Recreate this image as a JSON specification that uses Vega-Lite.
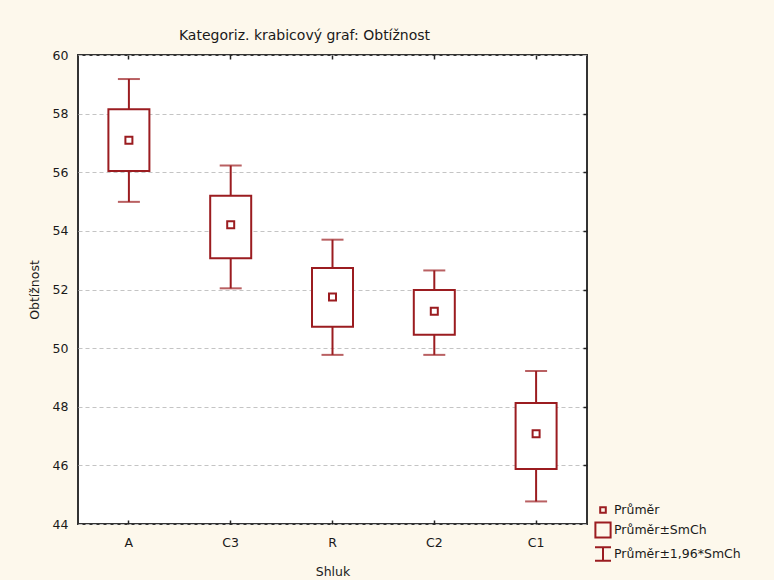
{
  "$schema": "https://vega.github.io/schema/vega-lite/v6.json",
  "autosize": "none",
  "width": 509,
  "height": 469,
  "padding": {"left": 78, "top": 55, "right": 187, "bottom": 56},
  "background": "#fdf8ec",
  "title": {
    "text": "Kategoriz. krabicový graf: Obtížnost",
    "fontSize": 14,
    "fontWeight": "normal",
    "font": "DejaVu Sans",
    "color": "#1a1a1a",
    "anchor": "middle",
    "dx": -28,
    "offset": 6
  },
  "config": {
    "font": "DejaVu Sans",
    "view": {"stroke": "#333333", "strokeWidth": 2, "fill": "white"},
    "axis": {
      "labelFont": "DejaVu Sans",
      "titleFont": "DejaVu Sans",
      "labelFontSize": 12.5,
      "titleFontSize": 12.5,
      "titleFontWeight": "normal",
      "labelColor": "#1a1a1a",
      "titleColor": "#1a1a1a"
    }
  },
  "data": {
    "values": [
      {"cluster": "A", "mean": 57.09, "se_lo": 56.04, "se_hi": 58.15, "ci_lo": 54.99, "ci_hi": 59.18},
      {"cluster": "C3", "mean": 54.21, "se_lo": 53.07, "se_hi": 55.2, "ci_lo": 52.04, "ci_hi": 56.23},
      {"cluster": "R", "mean": 51.74, "se_lo": 50.73, "se_hi": 52.73, "ci_lo": 49.77, "ci_hi": 53.7},
      {"cluster": "C2", "mean": 51.26, "se_lo": 50.46, "se_hi": 51.98, "ci_lo": 49.77, "ci_hi": 52.65},
      {"cluster": "C1", "mean": 47.08, "se_lo": 45.88, "se_hi": 48.13, "ci_lo": 44.77, "ci_hi": 49.22}
    ]
  },
  "layer": [
    {
      "mark": {"type": "rule", "color": "#9b1c20", "strokeWidth": 2},
      "encoding": {
        "x": {
          "field": "cluster",
          "type": "nominal",
          "sort": null,
          "scale": {"paddingInner": 0, "paddingOuter": 0},
          "axis": {
            "title": "Shluk",
            "labelAngle": 0,
            "domain": false,
            "ticks": true,
            "tickSize": -4,
            "tickColor": "#222222",
            "tickWidth": 1.5,
            "labelPadding": 16,
            "titlePadding": 17,
            "grid": false
          }
        },
        "y": {
          "field": "ci_lo",
          "type": "quantitative",
          "scale": {"domain": [44, 60], "nice": false, "zero": false},
          "axis": {
            "title": "Obtížnost",
            "values": [44, 46, 48, 50, 52, 54, 56, 58, 60],
            "domain": false,
            "ticks": false,
            "labelPadding": 10,
            "titlePadding": 11,
            "grid": true,
            "gridColor": "#c4c4c4",
            "gridDash": [4, 3],
            "gridWidth": 1.2
          }
        },
        "y2": {"field": "ci_hi"}
      }
    },
    {
      "mark": {"type": "bar", "fill": "white", "stroke": "#9b1c20", "strokeWidth": 2, "size": 41},
      "encoding": {
        "x": {"field": "cluster", "type": "nominal", "sort": null, "axis": null},
        "y": {"field": "se_lo", "type": "quantitative", "axis": null},
        "y2": {"field": "se_hi"}
      }
    },
    {
      "mark": {"type": "tick", "color": "#9b1c20", "size": 22, "thickness": 2},
      "encoding": {
        "x": {"field": "cluster", "type": "nominal", "sort": null, "axis": null},
        "y": {"field": "ci_lo", "type": "quantitative", "axis": null}
      }
    },
    {
      "mark": {"type": "tick", "color": "#9b1c20", "size": 22, "thickness": 2},
      "encoding": {
        "x": {"field": "cluster", "type": "nominal", "sort": null, "axis": null},
        "y": {"field": "ci_hi", "type": "quantitative", "axis": null}
      }
    },
    {
      "mark": {"type": "point", "color": "#9b1c20", "filled": false, "strokeWidth": 2, "size": 400, "opacity": 1},
      "encoding": {
        "x": {"field": "cluster", "type": "nominal", "sort": null, "axis": null},
        "y": {"field": "mean", "type": "quantitative", "axis": null},
        "shape": {
          "datum": "Průměr",
          "scale": {
            "domain": ["Průměr", "Průměr±SmCh", "Průměr±1,96*SmCh"],
            "range": [
              "M-0.35,-0.35H0.35V0.35H-0.35Z",
              "M-0.95,-0.95H0.95V0.95H-0.95Z",
              "M-1,-0.85H1M0,-0.85V0.85M-1,0.85H1"
            ]
          },
          "legend": {
            "title": null,
            "orient": "none",
            "legendX": 516,
            "legendY": 446,
            "padding": 0,
            "symbolSize": 256,
            "symbolStrokeWidth": 2,
            "symbolStrokeColor": "#9b1c20",
            "symbolFillColor": "transparent",
            "symbolOpacity": 1,
            "rowPadding": 1,
            "labelFont": "DejaVu Sans",
            "labelFontSize": 12.5,
            "labelColor": "#1a1a1a",
            "labelOffset": 2
          }
        }
      }
    },
    {
      "mark": {"type": "rule", "opacity": 0},
      "encoding": {
        "x": {
          "field": "cluster",
          "type": "nominal",
          "sort": null,
          "axis": {
            "orient": "top",
            "title": null,
            "labels": false,
            "domain": false,
            "ticks": true,
            "tickSize": -4,
            "tickWidth": 1.5,
            "tickColor": "#222222",
            "grid": false
          }
        },
        "y": {
          "field": "mean",
          "type": "quantitative",
          "axis": {
            "orient": "right",
            "title": null,
            "labels": false,
            "domain": false,
            "ticks": true,
            "tickSize": -4,
            "tickWidth": 1.5,
            "tickColor": "#222222",
            "values": [46, 48, 50, 52, 54, 56, 58],
            "grid": false
          }
        }
      }
    }
  ],
  "resolve": {"axis": {"y": "independent", "x": "independent"}}
}
